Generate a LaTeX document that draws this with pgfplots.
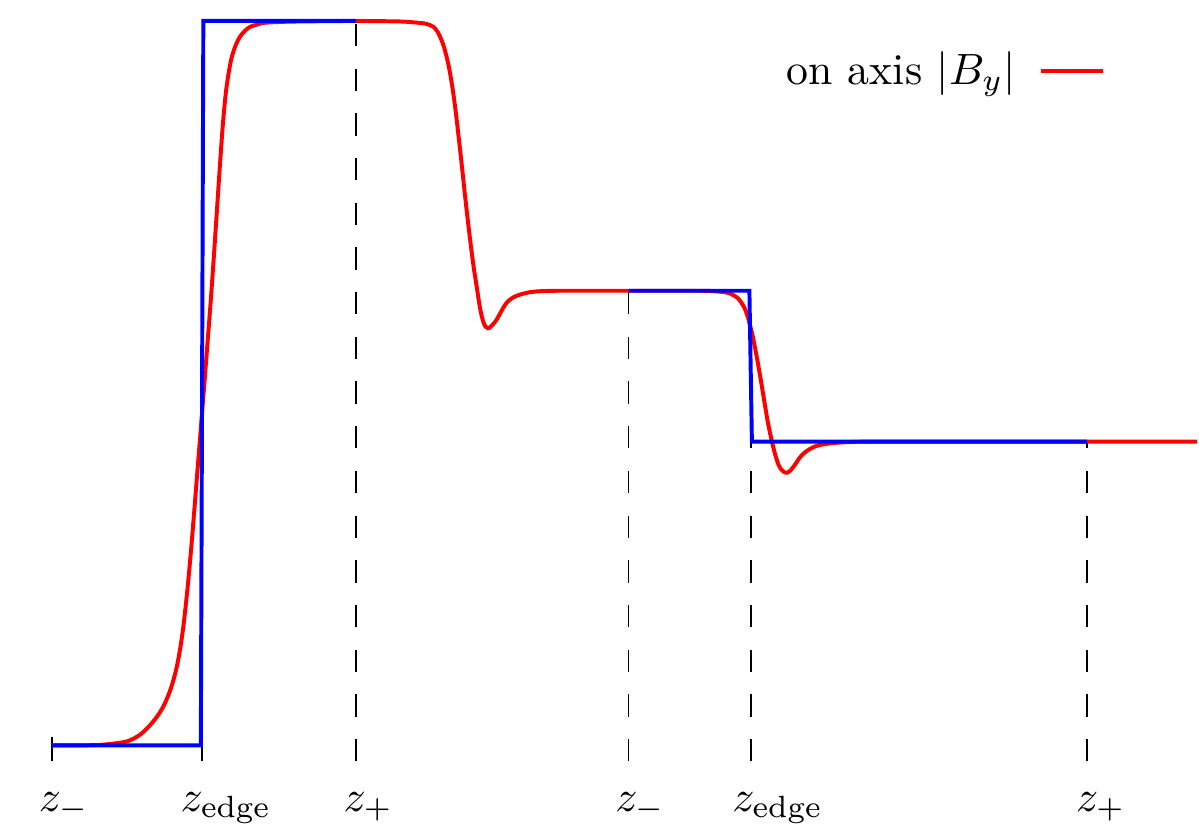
\documentclass[border=0pt]{standalone}
\usepackage{pgfplots}
\pgfplotsset{compat=1.18}
\begin{document}
\begin{tikzpicture}
\begin{axis}[
  x=0.228pt, y=0.228pt,
  xmin=0, xmax=1199, ymin=0, ymax=837,
  hide axis, clip=false,
  legend plot pos=right,
  legend image code/.code={\draw[#1] (0cm,0cm) -- (0.5cm,0cm);},
  legend style={draw=none, fill=none, at={(axis cs:1120,766)}, anchor=east, column sep=3.3pt},
]
\path (axis cs:0,0) rectangle (axis cs:1199,837);
% dashed guides
\addplot[black, line width=0.45pt, forget plot] coordinates {(52,75) (52,99)};
\addplot[black, line width=0.45pt, forget plot] coordinates {(202,75) (202,99)};
\addplot[black, line width=0.45pt, dash pattern=on 5.1pt off 5.1pt, forget plot] coordinates {(356,75) (356,816)};
\addplot[black, line width=0.45pt, dash pattern=on 5.1pt off 5.1pt, forget plot] coordinates {(629,75) (629,546)};
\addplot[black, line width=0.45pt, dash pattern=on 5.1pt off 5.1pt, forget plot] coordinates {(752,75) (752,395)};
\addplot[black, line width=0.45pt, dash pattern=on 5.1pt off 5.1pt, forget plot] coordinates {(1088,75) (1088,395)};
% on-axis field
\addplot[red, line width=0.9pt, smooth, tension=0.5] coordinates {
(52,91) (80,91) (100,91.5) (115,93) (127,95) (136,99) (143,104) (150,111) (155,117) (160,124) (164,131) (168,140) (171,148) (174,158) (177,170) (180,186) (183,206) (186,232) (189,262) (192,296) (195,333) (198,371) (202,421) (205,459) (208,498) (211,537) (214,580) (217,625) (220,670) (223,712) (226,744) (229,765) (232,780) (236,792) (240,800) (245,806) (250,810) (256,812) (263,814) (280,815) (300,815.5) (356,816)
(400,815.5) (415,814.5) (425,813.5) (430,812) (434,810) (438,805) (441,799) (444,791) (447,780) (450,766) (453,748) (456,726) (459,700) (462,673) (465,645) (468,618) (471,593) (474,570) (476,557) (478,544) (480,531) (482,521) (484,514) (486,510) (488,508.5) (490,509) (493,512) (497,517) (502,526) (507,534) (513,539) (520,542) (530,544.5) (540,545.5) (560,546) (629,546)
(700,546) (715,545.5) (725,544.5) (730,543.5) (735,541) (739,538) (742,534) (745,529) (748,521) (750,514) (753,502) (756,487) (760,465) (764,441) (768,417) (771,402) (774,389) (777,378) (780,370) (783,366) (786,364) (788,364) (791,366) (795,371) (799,377) (803,382) (808,386) (813,389) (820,391.5) (833,393.5) (850,394.5) (880,395) (1087,395) (1198,395)};
\addlegendentry{on axis $|B_y|$}
% step approximation
\addplot[blue, line width=0.9pt, forget plot] coordinates {(52,91) (201,91) (203.5,816) (356,816)};
\addplot[blue, line width=0.9pt, forget plot] coordinates {(629,546) (750,546) (752.5,395) (1088,395)};
% labels
\node[anchor=base west, inner sep=0pt] at (axis cs:38,25) {$z_-$};
\node[anchor=base west, inner sep=0pt] at (axis cs:180,25) {$z_{\mathrm{edge}}$};
\node[anchor=base west, inner sep=0pt] at (axis cs:343,25) {$z_+$};
\node[anchor=base west, inner sep=0pt] at (axis cs:615,25) {$z_-$};
\node[anchor=base west, inner sep=0pt] at (axis cs:732,25) {$z_{\mathrm{edge}}$};
\node[anchor=base west, inner sep=0pt] at (axis cs:1076,25) {$z_+$};
\end{axis}
\end{tikzpicture}
\end{document}
